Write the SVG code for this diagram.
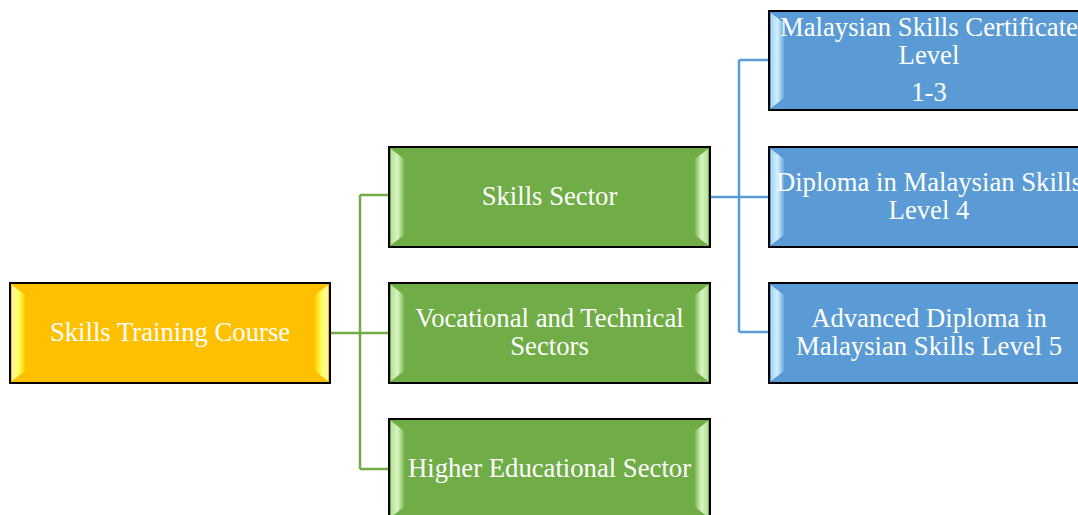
<svg xmlns="http://www.w3.org/2000/svg" width="1078" height="515" viewBox="0 0 1078 515">
<style>
.box{stroke:#000;stroke-width:2}
.gold{fill:#FFC000}
.green{fill:#70AD47}
.blue{fill:#5B9BD5}
text{font-family:"Liberation Serif","Times New Roman",serif;font-size:26.7px;fill:#fff;text-anchor:middle}
.cg{fill:none;stroke:#70AD47;stroke-width:2.5}
.cb{fill:none;stroke:#5B9BD5;stroke-width:2.5}
</style>
<defs>
<linearGradient id="gL" x1="0" x2="1" y1="0" y2="0"><stop offset="0" stop-color="#FFF8A0"/><stop offset="0.5" stop-color="#FFFF60"/><stop offset="1" stop-color="#FFD000"/></linearGradient>
<linearGradient id="gR" x1="1" x2="0" y1="0" y2="0"><stop offset="0" stop-color="#FFF8A0"/><stop offset="0.5" stop-color="#FFFF60"/><stop offset="1" stop-color="#FFD000"/></linearGradient>
<linearGradient id="nL" x1="0" x2="1" y1="0" y2="0"><stop offset="0" stop-color="#B8E0A0"/><stop offset="0.5" stop-color="#D8F5C0"/><stop offset="1" stop-color="#80BB58"/></linearGradient>
<linearGradient id="nR" x1="1" x2="0" y1="0" y2="0"><stop offset="0" stop-color="#B8E0A0"/><stop offset="0.5" stop-color="#D8F5C0"/><stop offset="1" stop-color="#80BB58"/></linearGradient>
<linearGradient id="bL" x1="0" x2="1" y1="0" y2="0"><stop offset="0" stop-color="#A8D4F0"/><stop offset="0.5" stop-color="#D0F0FF"/><stop offset="1" stop-color="#6AA8DC"/></linearGradient>
</defs>
<g id="connectors">
<path class="cg" d="M360,195 V469 M360,195 H389 M360,469 H389"/>
<path class="cg" d="M330,333 H389" stroke-width="3.5"/>
<path class="cb" d="M739,60 V332 M739,60 H769 M739,332 H769"/>
<path class="cb" d="M710,197 H769" stroke-width="3.5"/>
</g>
<g id="root">
<rect class="box gold" x="10" y="283" width="320" height="100"/>
<polygon points="12,285 25,295 25,371 12,381" fill="url(#gL)"/>
<polygon points="328,285 315,295 315,371 328,381" fill="url(#gR)"/>
<text x="170" y="341">Skills Training Course</text>
</g>
<g id="skills-sector">
<rect class="box green" x="389" y="147" width="321" height="100"/>
<polygon points="391,149 404,159 404,235 391,245" fill="url(#nL)"/>
<polygon points="708,149 695,159 695,235 708,245" fill="url(#nR)"/>
<text x="549.5" y="205">Skills Sector</text>
</g>
<g id="vocational">
<rect class="box green" x="389" y="283" width="321" height="100"/>
<polygon points="391,285 404,295 404,371 391,381" fill="url(#nL)"/>
<polygon points="708,285 695,295 695,371 708,381" fill="url(#nR)"/>
<text x="549.5" y="327">Vocational and Technical</text>
<text x="549.5" y="355">Sectors</text>
</g>
<g id="higher">
<rect class="box green" x="389" y="419" width="321" height="100"/>
<polygon points="391,421 404,431 404,507 391,517" fill="url(#nL)"/>
<polygon points="708,421 695,431 695,507 708,517" fill="url(#nR)"/>
<text x="549.5" y="477">Higher Educational Sector</text>
</g>
<g id="msc">
<rect class="box blue" x="769" y="11" width="321" height="99"/>
<polygon points="771,13 784,23 784,98 771,108" fill="url(#bL)"/>
<text x="929" y="36">Malaysian Skills Certificate</text>
<text x="929" y="64">Level</text>
<text x="929" y="101">1-3</text>
</g>
<g id="diploma">
<rect class="box blue" x="769" y="147" width="321" height="100"/>
<polygon points="771,149 784,159 784,235 771,245" fill="url(#bL)"/>
<text x="929" y="191">Diploma in Malaysian Skills</text>
<text x="929" y="219">Level 4</text>
</g>
<g id="advanced">
<rect class="box blue" x="769" y="283" width="321" height="100"/>
<polygon points="771,285 784,295 784,371 771,381" fill="url(#bL)"/>
<text x="929" y="327">Advanced Diploma in</text>
<text x="929" y="355">Malaysian Skills Level 5</text>
</g>
</svg>
